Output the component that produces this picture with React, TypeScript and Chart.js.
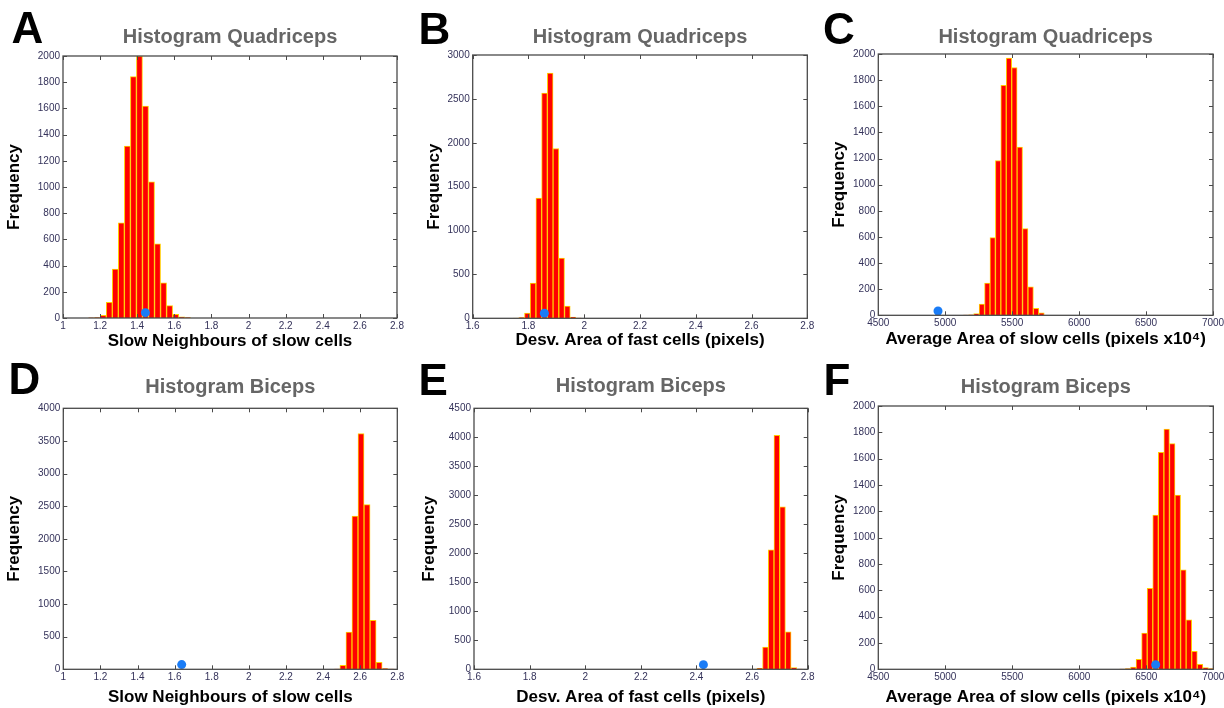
import React, { useEffect, useRef } from "react";
import { Chart, registerables } from "chart.js";

Chart.register(...registerables);

const FONT = "Arial, 'Liberation Sans', Helvetica, sans-serif";

// ---------- Data ----------
// Panel A – Quadriceps, slow neighbours of slow cells
const A_BIN_CENTERS = [1.152, 1.1845, 1.217, 1.2495, 1.282, 1.3145, 1.347, 1.3795, 1.412, 1.4445, 1.477, 1.5095, 1.542, 1.5745, 1.607, 1.6395, 1.672];
const A_COUNTS = [2, 4, 20, 120, 374, 726, 1312, 1842, 2000, 1618, 1040, 566, 268, 94, 28, 8, 3];
const A_OBSERVED = { x: 1.444, y: 41 };

// Panel B – Quadriceps, desv. area of fast cells
const B_BIN_CENTERS = [1.755, 1.7755, 1.796, 1.8165, 1.837, 1.8575, 1.878, 1.8985, 1.919, 1.9395, 1.96, 1.9805];
const B_COUNTS = [2, 8, 60, 400, 1370, 2565, 2795, 1935, 685, 140, 14, 3];
const B_OBSERVED = { x: 1.857, y: 57 };

// Panel C – Quadriceps, average area of slow cells
const C_BIN_CENTERS = [5152, 5192.5, 5233, 5273.5, 5314, 5354.5, 5395, 5435.5, 5476, 5516.5, 5557, 5597.5, 5638, 5678.5, 5719];
const C_COUNTS = [2, 4, 13, 86, 246, 594, 1185, 1760, 1968, 1897, 1288, 663, 218, 54, 19];
const C_OBSERVED = { x: 4946, y: 33 };

// Panel D – Biceps, slow neighbours of slow cells
const D_BIN_CENTERS = [2.4745, 2.507, 2.5395, 2.572, 2.6045, 2.637, 2.6695, 2.702, 2.7345, 2.767];
const D_COUNTS = [5, 61, 572, 2350, 3611, 2524, 751, 107, 12, 4];
const D_OBSERVED = { x: 1.638, y: 72 };

// Panel E – Biceps, desv. area of fast cells
const E_BIN_CENTERS = [2.607, 2.6275, 2.648, 2.6685, 2.689, 2.7095, 2.73, 2.7505, 2.771];
const E_COUNTS = [2, 15, 385, 2060, 4035, 2800, 645, 30, 4];
const E_OBSERVED = { x: 2.425, y: 80 };

// Panel F – Biceps, average area of slow cells
const F_BIN_CENTERS = [6320, 6361.5, 6403, 6444.5, 6486, 6527.5, 6569, 6610.5, 6652, 6693.5, 6735, 6776.5, 6818, 6859.5, 6901, 6942.5, 6984];
const F_COUNTS = [2, 5, 16, 76, 276, 615, 1172, 1648, 1824, 1714, 1324, 755, 375, 136, 37, 14, 5];
const F_OBSERVED = { x: 6570, y: 35 };

// Tick labels
const X_TICKS_NEIGHBOURS = [1, 1.2, 1.4, 1.6, 1.8, 2, 2.2, 2.4, 2.6, 2.8];
const X_TICKS_DESV = [1.6, 1.8, 2, 2.2, 2.4, 2.6, 2.8];
const X_TICKS_AREA = [4500, 5000, 5500, 6000, 6500, 7000];
const Y_TICKS_2000 = [0, 200, 400, 600, 800, 1000, 1200, 1400, 1600, 1800, 2000];
const Y_TICKS_3000 = [0, 500, 1000, 1500, 2000, 2500, 3000];
const Y_TICKS_4000 = [0, 500, 1000, 1500, 2000, 2500, 3000, 3500, 4000];
const Y_TICKS_4500 = [0, 500, 1000, 1500, 2000, 2500, 3000, 3500, 4000, 4500];

// Texts
const TITLE_QUAD = "Histogram Quadriceps";
const TITLE_BICEPS = "Histogram Biceps";
const XLABEL_NEIGHBOURS = "Slow Neighbours of slow cells";
const XLABEL_DESV = "Desv. Area of fast cells (pixels)";
const XLABEL_AREA = "Average Area of slow cells (pixels x10\u2074)";
const YLABEL = "Frequency";

// ---------- Layout per panel ----------
const PANELS = [
  { letter: "A", letterPos: [11.5, 6], canvas: [0, 0, 410, 354], centers: A_BIN_CENTERS, counts: A_COUNTS, obs: A_OBSERVED, title: TITLE_QUAD, xlabel: XLABEL_NEIGHBOURS, xTicks: X_TICKS_NEIGHBOURS, yTicks: Y_TICKS_2000, yAxisW: 63, xAxisH: 36, padRight: 13, titleTop: 25.5, titleBottom: 6.5, xTitlePad: 2.8, yTitlePad: 4.1 },
  { letter: "B", letterPos: [418.5, 7], canvas: [410, 0, 405, 354], centers: B_BIN_CENTERS, counts: B_COUNTS, obs: B_OBSERVED, title: TITLE_QUAD, xlabel: XLABEL_DESV, xTicks: X_TICKS_DESV, yTicks: Y_TICKS_3000, yAxisW: 62.7, xAxisH: 35.7, padRight: 7.7, titleTop: 25.5, titleBottom: 5.5, xTitlePad: 3.3, yTitlePad: 14.4 },
  { letter: "C", letterPos: [823, 7], canvas: [815, 0, 409, 354], centers: C_BIN_CENTERS, counts: C_COUNTS, obs: C_OBSERVED, title: TITLE_QUAD, xlabel: XLABEL_AREA, xTicks: X_TICKS_AREA, yTicks: Y_TICKS_2000, yAxisW: 63.3, xAxisH: 38.7, padRight: 11, titleTop: 25.5, titleBottom: 4.5, xTitlePad: 4.3, yTitlePad: 14.4 },
  { letter: "D", letterPos: [8.5, 357], canvas: [0, 354, 410, 354], centers: D_BIN_CENTERS, counts: D_COUNTS, obs: D_OBSERVED, title: TITLE_BICEPS, xlabel: XLABEL_NEIGHBOURS, xTicks: X_TICKS_NEIGHBOURS, yTicks: Y_TICKS_4000, yAxisW: 63.3, xAxisH: 38.7, padRight: 12.7, titleTop: 21.3, titleBottom: 9, xTitlePad: 0.3, yTitlePad: 4.4 },
  { letter: "E", letterPos: [418.5, 357.5], canvas: [410, 354, 405, 354], centers: E_BIN_CENTERS, counts: E_COUNTS, obs: E_OBSERVED, title: TITLE_BICEPS, xlabel: XLABEL_DESV, xTicks: X_TICKS_DESV, yTicks: Y_TICKS_4500, yAxisW: 64, xAxisH: 38.7, padRight: 7.3, titleTop: 20.7, titleBottom: 9.6, xTitlePad: 0, yTitlePad: 9.4 },
  { letter: "F", letterPos: [823.5, 357.5], canvas: [815, 354, 409, 354], centers: F_BIN_CENTERS, counts: F_COUNTS, obs: F_OBSERVED, title: TITLE_BICEPS, xlabel: XLABEL_AREA, xTicks: X_TICKS_AREA, yTicks: Y_TICKS_2000, yAxisW: 63.3, xAxisH: 38.7, padRight: 10.7, titleTop: 21, titleBottom: 7, xTitlePad: 0.3, yTitlePad: 14.4 },
];

const TICK_COLOR = "#34325a";
const FRAME_COLOR = "#4a4a4a";

const framePlugin = {
  id: "matlabFrame",
  afterDatasetsDraw(chart: any) {
    const { ctx, chartArea } = chart;
    const { left, right, top, bottom } = chartArea;
    const xs = chart.scales.x;
    const ys = chart.scales.y;
    ctx.save();
    ctx.strokeStyle = FRAME_COLOR;
    ctx.lineWidth = 1;
    ctx.beginPath();
    const tl = 4;
    xs.ticks.forEach((t: any) => {
      const px = Math.round(xs.getPixelForValue(t.value)) + 0.5;
      ctx.moveTo(px, bottom);
      ctx.lineTo(px, bottom - tl);
      ctx.moveTo(px, top);
      ctx.lineTo(px, top + tl);
    });
    ys.ticks.forEach((t: any) => {
      const py = Math.round(ys.getPixelForValue(t.value)) + 0.5;
      ctx.moveTo(left, py);
      ctx.lineTo(left + tl, py);
      ctx.moveTo(right, py);
      ctx.lineTo(right - tl, py);
    });
    ctx.stroke();
    ctx.lineWidth = 1.3;
    ctx.strokeRect(left, top, right - left, bottom - top);
    ctx.restore();
  },
};

function Panel({ cfg }: { cfg: any }) {
  const ref = useRef<HTMLCanvasElement | null>(null);
  useEffect(() => {
    if (!ref.current) return;
    const bars = cfg.centers.map((c: number, i: number) => ({ x: c, y: cfg.counts[i] }));
    const chart = new Chart(ref.current, {
      type: "bar",
      data: {
        datasets: [
          {
            type: "scatter",
            data: [cfg.obs],
            backgroundColor: "#1a7cf6",
            borderColor: "#1a7cf6",
            borderWidth: 0,
            pointRadius: 4.5,
            order: 0,
          } as any,
          {
            type: "bar",
            data: bars,
            backgroundColor: "#ff0000",
            borderColor: "#ffcc00",
            borderWidth: 1,
            barPercentage: 1,
            categoryPercentage: 1,
            order: 1,
          } as any,
        ],
      },
      options: {
        responsive: false,
        maintainAspectRatio: false,
        animation: false,
        devicePixelRatio: 1,
        events: [],
        layout: { padding: { left: 0, right: cfg.padRight, top: 0, bottom: 0 } },
        plugins: {
          legend: { display: false },
          tooltip: { enabled: false },
          title: {
            display: true,
            text: cfg.title,
            color: "#666666",
            fullSize: false,
            font: { family: FONT, size: 20, weight: "bold" },
            padding: { top: cfg.titleTop, bottom: cfg.titleBottom },
          },
        },
        scales: {
          x: {
            type: "linear",
            min: cfg.xTicks[0],
            max: cfg.xTicks[cfg.xTicks.length - 1],
            offset: false,
            grid: { display: false, drawTicks: false, offset: false },
            border: { display: false },
            ticks: {
              color: TICK_COLOR,
              font: { family: FONT, size: 10 },
              padding: 2,
              autoSkip: false,
              maxRotation: 0,
              callback: (v: any) => String(v),
            },
            afterBuildTicks: (s: any) => {
              s.ticks = cfg.xTicks.map((v: number) => ({ value: v }));
            },
            title: {
              display: true,
              text: cfg.xlabel,
              color: "#000000",
              font: { family: FONT, size: 17, weight: "bold" },
              padding: { top: 0, bottom: cfg.xTitlePad },
            },
            afterFit: (s: any) => {
              s.height = cfg.xAxisH;
              s.paddingLeft = 0;
              s.paddingRight = 0;
            },
          },
          y: {
            type: "linear",
            min: 0,
            max: cfg.yTicks[cfg.yTicks.length - 1],
            grid: { display: false, drawTicks: false },
            border: { display: false },
            ticks: {
              color: TICK_COLOR,
              font: { family: FONT, size: 10 },
              padding: 3,
              autoSkip: false,
              callback: (v: any) => String(v),
            },
            afterBuildTicks: (s: any) => {
              s.ticks = cfg.yTicks.map((v: number) => ({ value: v }));
            },
            title: {
              display: true,
              text: YLABEL,
              color: "#000000",
              font: { family: FONT, size: 17, weight: "bold" },
              padding: { top: cfg.yTitlePad, bottom: 0 },
            },
            afterFit: (s: any) => {
              s.width = cfg.yAxisW;
              s.paddingTop = 0;
              s.paddingBottom = 0;
            },
          },
        },
      } as any,
      plugins: [framePlugin],
    });
    return () => chart.destroy();
  }, [cfg]);
  const [l, t, w, h] = cfg.canvas;
  return (
    <canvas
      ref={ref}
      width={w}
      height={h}
      style={{ position: "absolute", left: l, top: t, width: w, height: h }}
    />
  );
}

export default function App() {
  useEffect(() => {
    document.body.style.margin = "0";
    document.body.style.background = "#ffffff";
  }, []);
  return (
    <div style={{ position: "relative", width: 1224, height: 708, background: "#ffffff", overflow: "hidden" }}>
      {PANELS.map((p) => (
        <Panel key={p.letter} cfg={p} />
      ))}
      {PANELS.map((p) => (
        <div
          key={"L" + p.letter}
          style={{
            position: "absolute",
            left: p.letterPos[0],
            top: p.letterPos[1],
            fontFamily: FONT,
            fontWeight: "bold",
            fontSize: 44,
            lineHeight: "44px",
            color: "#000",
          }}
        >
          {p.letter}
        </div>
      ))}
    </div>
  );
}
